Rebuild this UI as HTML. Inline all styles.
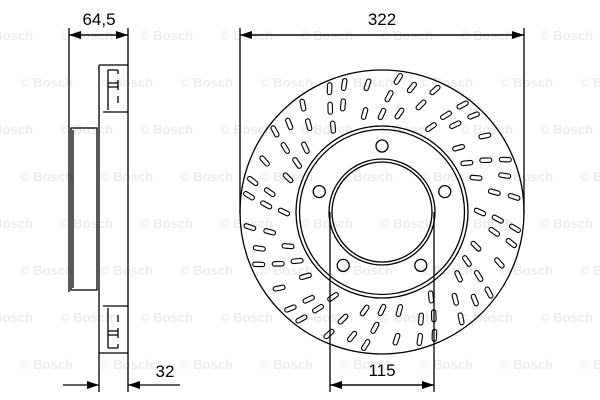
<!DOCTYPE html>
<html><head><meta charset="utf-8"><style>
html,body{margin:0;padding:0;background:#fff;width:600px;height:400px;overflow:hidden}
svg{display:block}
text{font-family:"Liberation Sans",sans-serif}
</style></head><body>
<svg id="s" width="600" height="400" viewBox="0 0 600 400" xmlns="http://www.w3.org/2000/svg">
<defs><marker id="a" markerWidth="12" markerHeight="8" refX="12" refY="4" orient="auto" markerUnits="userSpaceOnUse"><path d="M0,0 L12,4 L0,8 z" fill="#000"/></marker></defs>
<g fill="#ececec" font-size="13" font-weight="bold" id="wm"></g>
<g stroke="#000" stroke-width="1.3" fill="none">
<line x1="69" y1="28" x2="69" y2="292"/>
<line x1="128" y1="28" x2="128" y2="392"/>
<line x1="99" y1="65" x2="99" y2="392"/>
<line x1="99" y1="65" x2="128" y2="65"/>
<line x1="99" y1="353" x2="128" y2="353"/>
<line x1="103" y1="112" x2="128" y2="112"/>
<line x1="103" y1="306" x2="128" y2="306"/>
<rect x="71" y="128" width="26" height="162"/>
<line x1="73" y1="130" x2="73" y2="288"/>
<path d="M108,70 h10 M108,83 h10 M108,87 h10 M108,70 v40 M118,70 v4 M118,80 v10 M118,96 v7"/>
<path d="M108,348 h10 M108,335 h10 M108,331 h10 M108,348 v-40 M118,348 v-4 M118,338 v-10 M118,322 v-7"/>
<line x1="69" y1="35" x2="128" y2="35" marker-end="url(#a)"/>
<line x1="128" y1="35" x2="69" y2="35" marker-end="url(#a)"/>
<line x1="63" y1="385" x2="99" y2="385" marker-end="url(#a)"/>
<line x1="180" y1="385" x2="128" y2="385" marker-end="url(#a)"/>
<line x1="240" y1="28" x2="240" y2="214"/>
<line x1="524" y1="28" x2="524" y2="214"/>
<line x1="240" y1="35" x2="524" y2="35" marker-end="url(#a)"/>
<line x1="524" y1="35" x2="240" y2="35" marker-end="url(#a)"/>
<line x1="330" y1="212" x2="330" y2="392"/>
<line x1="434" y1="212" x2="434" y2="392"/>
<line x1="330" y1="385" x2="434" y2="385" marker-end="url(#a)"/>
<line x1="434" y1="385" x2="330" y2="385" marker-end="url(#a)"/>
<circle cx="382" cy="212" r="142"/>
<circle cx="382" cy="212" r="86"/>
<circle cx="382" cy="212" r="82.5"/>
<circle cx="382" cy="212" r="53"/>
<circle cx="382" cy="212" r="50"/>
<g id="holes"></g>
<g id="slots" stroke-width="1.1"></g>
</g>
<g font-size="17" fill="#000" text-anchor="middle">
<text x="99" y="25">64,5</text>
<text x="382" y="25">322</text>
<text x="382" y="376">115</text>
<text x="165" y="377">32</text>
</g>
</svg>
<script>
var ns="http://www.w3.org/2000/svg",cx=382,cy=212;
function el(t,a,p){var e=document.createElementNS(ns,t);for(var k in a)e.setAttribute(k,a[k]);document.getElementById(p).appendChild(e);}
for(var i=0;i<5;i++){var an=-Math.PI/2+i*2*Math.PI/5;el("circle",{cx:cx+66*Math.cos(an),cy:cy+66*Math.sin(an),r:6},"holes");}
var N=36;
for(var i=0;i<N;i++){
 var base=i*360/N;
 var rs=(i%2==0)?[100,128]:[114,133];
 if(i%3==0) rs=[98,116,134];
 for(var j=0;j<rs.length;j++){
  var r=rs[j],ang=base+j*3.5;
  var rad=ang*Math.PI/180;
  var x=cx+r*Math.cos(rad),y=cy+r*Math.sin(rad);
  el("rect",{x:-6,y:-2.2,width:12,height:4.4,rx:2.2,transform:"translate("+x.toFixed(1)+","+y.toFixed(1)+") rotate("+(ang+25).toFixed(1)+")"},"slots");
 }
}
for(var y=40;y<400;y+=47){for(var x=-20;x<600;x+=80){var o=((y-40)/47%2)?40:0;var t=document.createElementNS(ns,"text");t.setAttribute("x",x+o);t.setAttribute("y",y);t.textContent="© Bosch";document.getElementById("wm").appendChild(t);}}
</script>
</body></html>
